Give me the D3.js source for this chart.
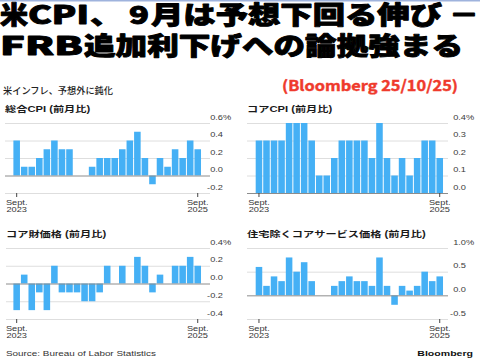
<!DOCTYPE html>
<html><head><meta charset="utf-8">
<script src="https://cdn.jsdelivr.net/npm/d3@7"></script>
<style>html,body{margin:0;padding:0;background:#fff;overflow:hidden}</style>
</head><body>
<script>
// ---- data ----
const months = ["2023-09","2023-10","2023-11","2023-12","2024-01","2024-02","2024-03","2024-04","2024-05","2024-06","2024-07","2024-08","2024-09","2024-10","2024-11","2024-12","2025-01","2025-02","2025-03","2025-04","2025-05","2025-06","2025-07","2025-08","2025-09"];
const headlineCPI = [0.4,0.1,0.1,0.2,0.3,0.4,0.3,0.3,0,0,0.1,0.2,0.2,0.2,0.3,0.4,0.5,0.2,-0.1,0.2,0.1,0.3,0.2,0.4,0.3];
const coreCPI     = [0.3,0.3,0.3,0.3,0.4,0.4,0.4,0.3,0.1,0.1,0.2,0.3,0.3,0.3,0.3,0.2,0.4,0.2,0.1,0.2,0.1,0.2,0.3,0.3,0.2];
const coreGoods   = [-0.3,0.1,-0.3,-0.1,-0.3,0.2,-0.1,-0.1,-0.1,-0.2,-0.2,-0.1,0.2,0,0.2,0,0.3,0.2,-0.1,0.1,0,0.2,0.2,0.3,0.2];
const supercore   = [0.6,0.2,0.4,0.3,0.8,0.5,0.7,0.3,0,0,0.2,0.3,0.4,0.3,0.3,0.2,0.8,0.2,-0.2,0.2,0.1,0.2,0.5,0.3,0.4];

const headlineTicks = [-0.2,0,0.2,0.4,0.6];
const headlineTickLabels = ["-0.2","0.0","0.2","0.4","0.6"];
const coreTicks = [0,0.1,0.2,0.3,0.4];
const coreTickLabels = ["0.0","0.1","0.2","0.3","0.4"];
const goodsTicks = [-0.4,-0.2,0,0.2,0.4];
const goodsTickLabels = ["-0.4","-0.2","0.0","0.2","0.4"];
const superTicks = [-0.5,0,0.5,1.0];
const superTickLabels = ["-0.5","0.0","0.5","1.0"];

const xTickMonths = ["2023-09","2025-09"];
const xTickLabels = [["Sept.","2023"],["Sept.","2025"]];

const panelTitles = ["総合CPI (前月比)","コアCPI (前月比)","コア財価格 (前月比)","住宅除くコアサービス価格 (前月比)"];

// ---- drawing ----
const W = 480, H = 360;
const svg = d3.select("body").append("svg").attr("width", W).attr("height", H)
  .style("display","block").style("background","#fff");

const LAT = "'Liberation Sans', Arial, 'Noto Sans CJK JP', sans-serif";
const JP = "'Noto Sans CJK JP', 'Noto Sans CJK SC', sans-serif";
const SX = 1.32;

function txt(parent, x, y, s, o) {
  o = o || {};
  return parent.append("text")
    .attr("transform", `translate(${x},${y}) scale(${o.sx || 1},1)`)
    .attr("text-anchor", o.anchor || "start")
    .style("font-family", o.family || LAT)
    .style("font-size", (o.size || 7) + "px")
    .style("font-weight", o.weight || 400)
    .style("fill", o.fill || "#333")
    .text(s);
}

// top thin line
svg.append("rect").attr("x",0).attr("y",0).attr("width",W).attr("height",1.5).attr("fill","#9fb3dd");

// headline segments
function seg(x, y, s, len) {
  svg.append("text").attr("x", x).attr("y", y)
    .attr("textLength", len).attr("lengthAdjust", "spacingAndGlyphs")
    .style("font-family", JP).style("font-size", "25px").style("font-weight", 900)
    .style("fill", "#000").style("stroke", "#000").style("stroke-width", 0.9)
    .style("stroke-linejoin", "round").text(s);
}
seg(0, 24, "米", 28);
seg(28, 24, "CPI", 61);
seg(90, 24, "、", 32);
seg(129, 24, "9", 20);
seg(151, 24, "月は予想下回る伸び", 291);
seg(449, 24, "－", 30);
seg(0, 54.5, "FRB", 83);
seg(84, 54.5, "追加利下げへの論拠強まる", 379);

// subtitle and red note
svg.append("text").attr("x", 3).attr("y", 94)
  .attr("textLength", 110).attr("lengthAdjust", "spacingAndGlyphs")
  .style("font-family", JP).style("font-size", "9.5px").style("font-weight", 500)
  .style("fill", "#222").text("米インフレ、予想外に鈍化");
svg.append("text").attr("x", 282).attr("y", 91)
  .attr("textLength", 176).attr("lengthAdjust", "spacingAndGlyphs")
  .style("font-family", JP).style("font-size", "14.5px").style("font-weight", 700)
  .style("fill", "#ef3a2c").style("stroke", "#ef3a2c").style("stroke-width", 0.4)
  .text("(Bloomberg 25/10/25)");

const panels = [
  {title: panelTitles[0], values: headlineCPI, ticks: headlineTicks, labels: headlineTickLabels,
   gx0: 5, gx1: 210, lx: 223, bx0: 12.9, bx1: 201.5, top: 123, bottom: 193, ty: 112},
  {title: panelTitles[1], values: coreCPI, ticks: coreTicks, labels: coreTickLabels,
   gx0: 247, gx1: 448, lx: 466, bx0: 255.2, bx1: 443.5, top: 123, bottom: 193, ty: 112},
  {title: panelTitles[2], values: coreGoods, ticks: goodsTicks, labels: goodsTickLabels,
   gx0: 6, gx1: 210, lx: 223, bx0: 12.9, bx1: 201.5, top: 248, bottom: 319, ty: 237},
  {title: panelTitles[3], values: supercore, ticks: superTicks, labels: superTickLabels,
   gx0: 247, gx1: 448, lx: 466, bx0: 255.2, bx1: 443.5, top: 248, bottom: 319, ty: 237}
];

panels.forEach(p => {
  const g = svg.append("g");
  const x = d3.scaleBand().domain(months).range([p.bx0, p.bx1]).paddingInner(0.13).paddingOuter(0.065);
  const y = d3.scaleLinear().domain([p.ticks[0], p.ticks[p.ticks.length - 1]]).range([p.bottom, p.top]);

  // title
  txt(g, p.gx0, p.ty, p.title, {size: 8.5, weight: 700, sx: SX, fill: "#1a1a1a"});

  // gridlines
  g.selectAll("line.grid").data(p.ticks.filter(t => t !== 0)).enter().append("line")
    .attr("x1", p.gx0).attr("x2", p.gx1)
    .attr("y1", d => y(d) + 0.5).attr("y2", d => y(d) + 0.5)
    .attr("stroke", "#dedede").attr("stroke-width", 1);

  // bars
  g.selectAll("rect.bar").data(p.values.map((v, i) => ({m: months[i], v}))).enter().append("rect")
    .attr("x", d => x(d.m)).attr("width", x.bandwidth())
    .attr("y", d => y(Math.max(0, d.v))).attr("height", d => Math.abs(y(d.v) - y(0)))
    .attr("fill", "#45b0f5");

  // zero line
  g.append("line").attr("x1", p.gx0).attr("x2", p.gx1)
    .attr("y1", y(0) + 0.5).attr("y2", y(0) + 0.5)
    .attr("stroke", "#8c8c8c").attr("stroke-width", 1);

  // y labels
  p.ticks.forEach((t, i) => {
    txt(g, p.lx, y(t) - 3.5, p.labels[i], {size: 7, sx: SX, anchor: "end", fill: "#3a3a3a"});
    if (i === p.ticks.length - 1) txt(g, p.lx, y(t) - 3.5, "%", {size: 7, sx: SX, fill: "#3a3a3a"});
  });

  // x ticks
  xTickMonths.forEach((m, i) => {
    const cx = x(m) + x.bandwidth() / 2;
    g.append("line").attr("x1", cx).attr("x2", cx).attr("y1", p.bottom).attr("y2", p.bottom + 4)
      .attr("stroke", "#444").attr("stroke-width", 1);
    txt(g, cx, p.bottom + 11.5, xTickLabels[i][0], {size: 7, sx: SX, anchor: "middle", fill: "#333"});
    txt(g, cx, p.bottom + 19, xTickLabels[i][1], {size: 7, sx: SX, anchor: "middle", fill: "#333"});
  });
});

txt(svg, 6, 355.5, "Source: Bureau of Labor Statistics", {size: 7.5, sx: SX, fill: "#333"});
txt(svg, 473, 356, "Bloomberg", {size: 8, sx: SX, weight: 700, anchor: "end", fill: "#111"});
</script>
</body></html>
